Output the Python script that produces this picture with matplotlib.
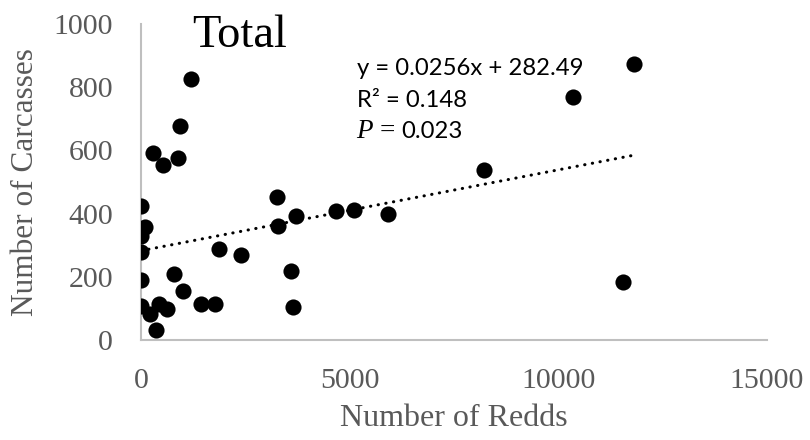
import matplotlib
matplotlib.use("Agg")
import matplotlib.pyplot as plt
import numpy as np

# Redds vs. carcasses, all sites combined
redds = [0, 90, 0, 0, 0, 0, 215, 440, 630, 360, 790, 1015, 1440, 1785, 1870,
         2400, 3250, 3290, 3715, 3585, 3650, 4670, 5100, 5925,
         280, 535, 875, 935, 1200, 11825, 10345, 8225, 11540]
carcasses = [423, 357, 328, 277, 189, 107, 82, 113, 97, 32, 210, 154, 113, 113, 287,
             270, 454, 360, 392, 219, 105, 408, 412, 400,
             593, 553, 576, 678, 827, 873, 770, 538, 182]

slope = 0.0256
intercept = 282.49
r_squared = 0.148
p_value = 0.023

x_ticks = [0, 5000, 10000, 15000]
y_ticks = [0, 200, 400, 600, 800, 1000]

gray = "#595959"
serif = "Liberation Serif"

fig = plt.figure(figsize=(8.1, 4.4), dpi=100)
ax = fig.add_axes([141 / 810, 1 - 340 / 440, (767 - 141) / 810, (340 - 24) / 440])

ax.scatter(redds, carcasses, s=135, color="black", zorder=3, linewidths=0)

xfit = np.array([min(redds), max(redds)])
ax.plot(xfit, slope * xfit + intercept, color="black", lw=2.2,
        linestyle=(0, (0.1, 2.45)), dash_capstyle="round", zorder=2)

ax.set_xlim(0, 15000)
ax.set_ylim(0, 1000)
ax.set_xticks(x_ticks)
ax.set_yticks(y_ticks)
ax.tick_params(length=0, labelsize=21.5, labelcolor=gray)
ax.tick_params(axis="x", pad=20)
ax.tick_params(axis="y", pad=20)
for lab in ax.get_xticklabels() + ax.get_yticklabels():
    lab.set_fontfamily(serif)

for side in ("top", "right"):
    ax.spines[side].set_visible(False)
for side in ("left", "bottom"):
    ax.spines[side].set_color("#bfbfbf")
    ax.spines[side].set_linewidth(1.5)

ax.set_xlabel("Number of Redds", fontsize=23, color=gray, family=serif, labelpad=7)
ax.set_ylabel("Number of Carcasses", fontsize=22.5, color=gray, family=serif, labelpad=10)

fig.text(192 / 810, 1 - 47 / 440, "Total", fontsize=33.5, family=serif,
         color="black", ha="left", va="baseline")

sans = "Lato"
fs = 17.2
fig.text(357 / 810, 1 - 75 / 440, f"y = {slope}x + {intercept}", fontsize=fs,
         family=sans, ha="left", va="baseline")
fig.text(357 / 810, 1 - 107 / 440, f"R² = {r_squared}", fontsize=fs,
         family=sans, ha="left", va="baseline")
fig.text(356 / 810, 1 - 138 / 440, "P", fontsize=19.5, family=serif,
         style="italic", ha="left", va="baseline")
fig.text(380 / 810, 1 - 138 / 440, "=", fontsize=19.5, family=serif,
         ha="left", va="baseline")
fig.text(401 / 810, 1 - 138 / 440, f"{p_value}", fontsize=fs,
         family=sans, ha="left", va="baseline")

fig.savefig("out.png", dpi=100)
